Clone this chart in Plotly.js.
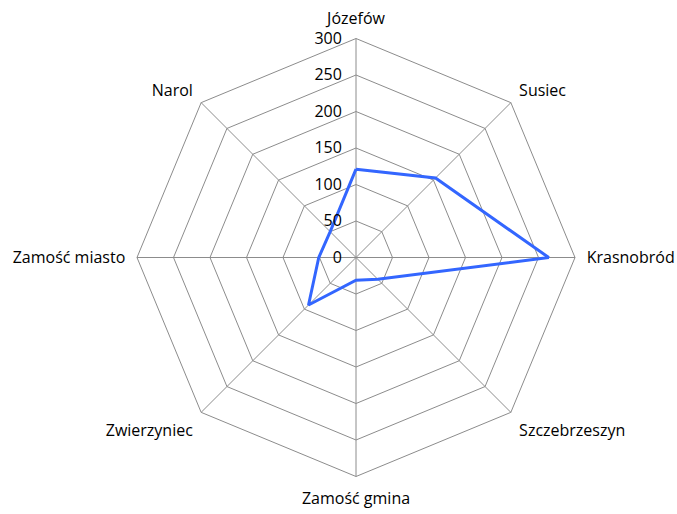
<!DOCTYPE html>
<html>
<head>
<meta charset="utf-8">
<script src="https://cdn.plot.ly/plotly-3.0.1.min.js"></script>
<style>html,body{margin:0;padding:0;background:#fff;}#chart{width:677px;height:514px;}</style>
</head>
<body>
<div id="chart"></div>
<script>
var categories = ["Józefów", "Susiec", "Krasnobród", "Szczebrzeszyn", "Zamość gmina", "Zwierzyniec", "Zamość miasto", "Narol"];
var values = [121, 154, 264, 42, 31, 92, 51, 50];
var radialTicks = [0, 50, 100, 150, 200, 250, 300];

var trace = {
  type: 'scatterpolar',
  r: values.concat([values[0]]),
  theta: categories.concat([categories[0]]),
  mode: 'lines',
  line: {color: '#3366ff', width: 3},
  hoverinfo: 'skip'
};

var layout = {
  width: 677, height: 514,
  margin: {l: 0, r: 0, t: 0, b: 0},
  paper_bgcolor: '#fff',
  showlegend: false,
  font: {family: '"Open Sans", Lato, sans-serif', size: 16, color: '#000'},
  polar: {
    domain: {x: [137/677, 575/677], y: [1 - 476.5/514, 1 - 38.5/514]},
    bgcolor: '#fff',
    gridshape: 'linear',
    angularaxis: {
      rotation: 90,
      direction: 'clockwise',
      type: 'category',
      categoryarray: categories,
      showline: true,
      linecolor: '#8c8c8c',
      linewidth: 1,
      gridcolor: '#8c8c8c',
      gridwidth: 1,
      ticks: 'outside',
      ticklen: 8,
      tickcolor: 'rgba(0,0,0,0)',
      tickfont: {size: 16, color: '#000'}
    },
    radialaxis: {
      range: [0, 300],
      tickvals: radialTicks,
      ticktext: radialTicks.map(String),
      angle: 90,
      tickangle: 90,
      side: 'counterclockwise',
      showline: false,
      ticks: 'outside',
      ticklen: 8,
      tickcolor: 'rgba(0,0,0,0)',
      gridcolor: '#8c8c8c',
      gridwidth: 1,
      tickfont: {size: 16, color: '#000'}
    }
  }
};

Plotly.newPlot('chart', [trace], layout, {staticPlot: true});
</script>
</body>
</html>
